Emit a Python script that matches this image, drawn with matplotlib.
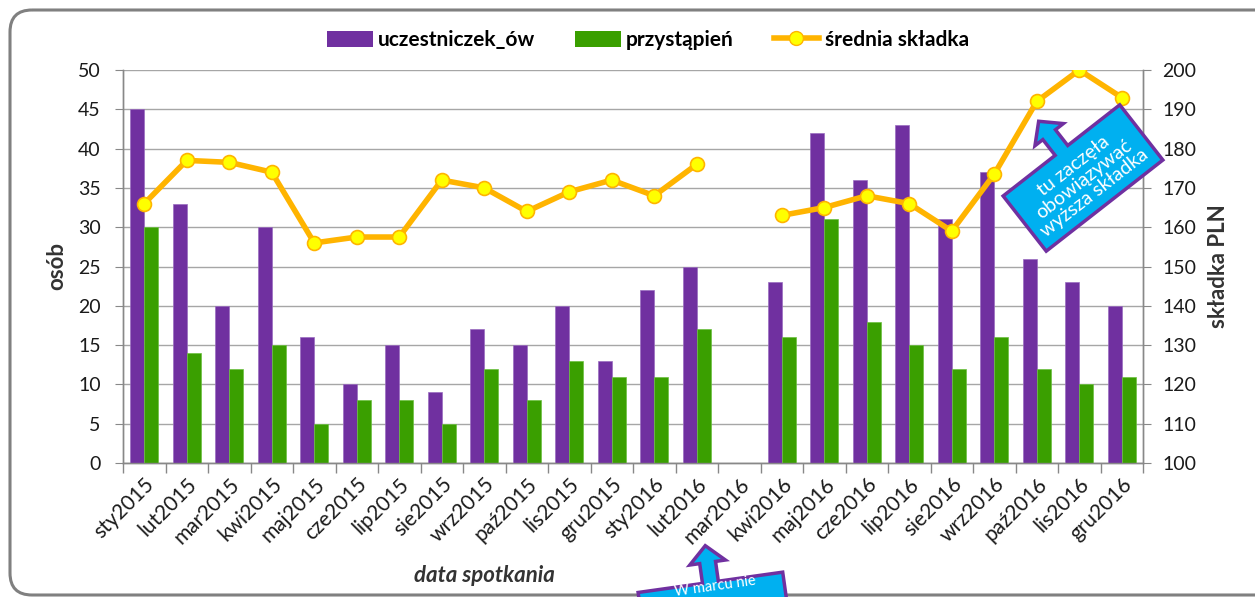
import numpy as np
import matplotlib
matplotlib.use("Agg")
import matplotlib.pyplot as plt
from matplotlib.patches import Polygon, FancyBboxPatch, Patch
from matplotlib.lines import Line2D

plt.rcParams['font.family'] = ['Lato', 'DejaVu Sans']

months = ["sty2015", "lut2015", "mar2015", "kwi2015", "maj2015", "cze2015",
          "lip2015", "sie2015", "wrz2015", "paź2015", "lis2015", "gru2015",
          "sty2016", "lut2016", "mar2016", "kwi2016", "maj2016", "cze2016",
          "lip2016", "sie2016", "wrz2016", "paź2016", "lis2016", "gru2016"]
uczestnicy = [45, 33, 20, 30, 16, 10, 15, 9, 17, 15, 20, 13,
              22, 25, 0, 23, 42, 36, 43, 31, 37, 26, 23, 20]
przystapienia = [30, 14, 12, 15, 5, 8, 8, 5, 12, 8, 13, 11,
                 11, 17, 0, 16, 31, 18, 15, 12, 16, 12, 10, 11]
skladka = [166, 177, 176.5, 174, 156, 157.5, 157.5, 172, 170, 164, 169, 172,
           168, 176, np.nan, 163, 165, 168, 166, 159, 173.5, 192, 200, 193]

PURPLE = "#7030A0"
GREEN = "#3A9F00"
ORANGE = "#FFB400"
YELLOW = "#FFFF00"
BLUE = "#00B0F0"
GRID = "#A6A6A6"

W, H = 1255, 597
fig = plt.figure(figsize=(W / 100, H / 100), dpi=100)
ax = fig.add_axes([123 / W, 1 - 463 / H, (1143 - 123) / W, (463 - 70) / H])
ax2 = ax.twinx()

x = np.arange(len(months))
bw = 0.33
ax.bar(x - bw / 2, uczestnicy, width=bw, color=PURPLE, edgecolor="#9A6CC0", linewidth=0.5, zorder=3)
ax.bar(x + bw / 2, przystapienia, width=bw, color=GREEN, edgecolor="#6CC040", linewidth=0.5, zorder=3)

ax.set_xlim(-0.5, len(months) - 0.5)
ax.set_ylim(0, 50)
ax.set_yticks(np.arange(0, 51, 5))
ax.yaxis.grid(True, color=GRID, linewidth=1.0, zorder=0)
ax.set_axisbelow(True)
ax.set_xticks(x)
ax.set_xticklabels(months, rotation=45, ha="right", rotation_mode="anchor", fontsize=15, color="#1a1a1a")
ax.tick_params(axis="x", which="major", length=0, pad=8)
ax.set_xticks(np.arange(-0.5, len(months), 1), minor=True)
ax.tick_params(axis="x", which="minor", length=7, color="#888888", width=1)
ax.tick_params(axis="y", length=6, color="#888888", labelsize=14, labelcolor="#1a1a1a", pad=10)

ax2.set_ylim(100, 200)
ax2.set_yticks(np.arange(100, 201, 10))
ax2.tick_params(axis="y", length=6, color="#888888", labelsize=14, labelcolor="#1a1a1a", pad=8)
ax2.plot(x, skladka, color=ORANGE, linewidth=4, marker="o", markersize=10,
         markerfacecolor=YELLOW, markeredgecolor=ORANGE, markeredgewidth=1.2, zorder=5)

for a in (ax, ax2):
    a.spines["top"].set_visible(False)
    for s in ("left", "right", "bottom"):
        a.spines[s].set_color("#888888")
        a.spines[s].set_linewidth(1.0)

ax.set_ylabel("osób", fontsize=16, fontweight="bold", color="#333333", labelpad=8)
ax2.set_ylabel("składka PLN", fontsize=16, fontweight="bold", color="#333333", labelpad=8)
fig.text(484 / W, 1 - 575 / H, "data spotkania", fontsize=16, fontweight="bold",
         fontstyle="italic", color="#333333", ha="center", va="center")

handles = [Patch(facecolor=PURPLE), Patch(facecolor=GREEN),
           Line2D([0], [0], color=ORANGE, linewidth=4, marker="o", markersize=10,
                  markerfacecolor=YELLOW, markeredgecolor=ORANGE)]
fig.legend(handles, ["uczestniczek_ów", "przystąpień", "średnia składka"], ncol=3,
           loc="center", bbox_to_anchor=(648 / W, 1 - 40 / H), frameon=False,
           prop={"size": 15, "weight": "bold"}, handlelength=2.2, handleheight=0.8,
           handletextpad=0.25, columnspacing=1.9)

# overlay in pixel coordinates for frame and callouts
ov = fig.add_axes([0, 0, 1, 1], zorder=10)
ov.set_xlim(0, W)
ov.set_ylim(H, 0)
ov.axis("off")
ov.patch.set_alpha(0)

frame = FancyBboxPatch((10, 10), 1400, 585, boxstyle="round,pad=0,rounding_size=22",
                       facecolor="none", edgecolor="#808080", linewidth=2.2)
ov.add_patch(frame)


def callout(cx, cy, ang, bw_, bh_, text, tx_off=0.0, ty_off=0.0, fs=13):
    sx, hx, sl, tl = 8, 18, 20, 37
    pts = [(-bw_ / 2, -bh_ / 2), (bw_ / 2, -bh_ / 2), (bw_ / 2, bh_ / 2),
           (sx, bh_ / 2), (sx, bh_ / 2 + sl), (hx, bh_ / 2 + sl), (0, bh_ / 2 + tl),
           (-hx, bh_ / 2 + sl), (-sx, bh_ / 2 + sl), (-sx, bh_ / 2), (-bw_ / 2, bh_ / 2)]
    t = np.deg2rad(ang)
    c, s = np.cos(t), np.sin(t)
    pix = []
    for (lx, ly) in pts:
        rx = lx * c - ly * s
        ry = lx * s + ly * c
        pix.append((cx + rx, cy - ry))
    ov.add_patch(Polygon(pix, closed=True, facecolor=BLUE, edgecolor=PURPLE,
                         linewidth=2.5, joinstyle="miter"))
    rx = tx_off * c - ty_off * s
    ry = tx_off * s + ty_off * c
    ov.text(cx + rx, cy - ry, text, rotation=ang, rotation_mode="anchor",
            ha="center", va="center", color="white", fontsize=fs, linespacing=1.0,
            multialignment="center")


callout(1083, 178, 38, 148, 70, "tu zaczęła\nobowiązywać\nwyższa składka", ty_off=-2, fs=14)
callout(715, 615, 8, 146, 66, "W marcu nie", tx_off=4, ty_off=28.5, fs=10.5)

fig.savefig("out.png", dpi=100)
